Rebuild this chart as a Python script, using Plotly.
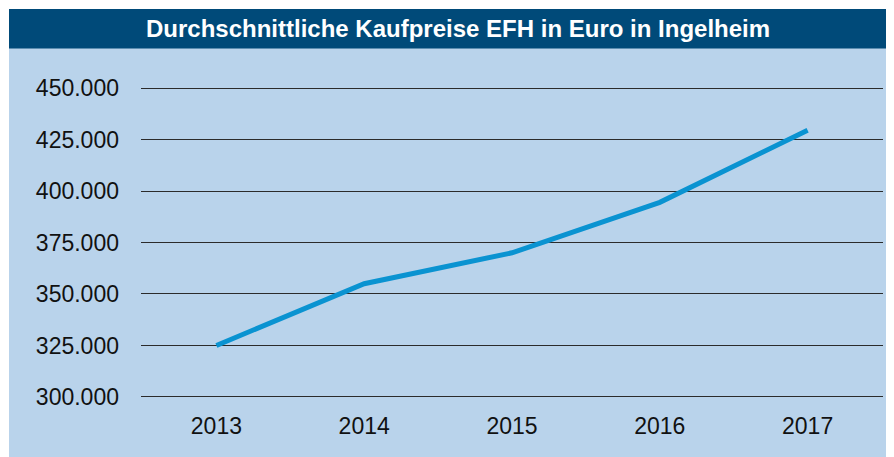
import plotly.graph_objects as go

years = ["2013", "2014", "2015", "2016", "2017"]
prices = [325000, 355000, 370000, 394500, 429500]
y_ticks = [300000, 325000, 350000, 375000, 400000, 425000, 450000]
y_tick_labels = ["300.000", "325.000", "350.000", "375.000", "400.000", "425.000", "450.000"]
title_text = "Durchschnittliche Kaufpreise EFH in Euro in Ingelheim"

# page has an 8px body margin, so the figure starts at (8, 8)
OFF = 8
W, H = 894 - OFF, 457 - OFF
L, R, T, B = 141 - OFF, 11, 86 - OFF, 58
pw, ph = W - L - R, H - T - B

def px(x):
    return (x - OFF - L) / pw

def py(y):
    return (H - B - (y - OFF)) / ph

fig = go.Figure()
fig.add_trace(go.Scatter(
    x=list(range(len(years))), y=prices, mode="lines",
    line=dict(color="#0a93d1", width=5),
    hoverinfo="skip", showlegend=False,
))

fig.add_shape(type="rect", xref="paper", yref="paper",
              x0=px(9), x1=px(894 + 5), y0=py(457 + 5), y1=py(48),
              fillcolor="#b9d3eb", line_width=0, layer="below")
fig.add_shape(type="rect", xref="paper", yref="paper",
              x0=px(9), x1=px(894 + 5), y0=py(48.5), y1=py(9),
              fillcolor="#004a79", line_width=0, layer="below")

fig.add_annotation(text="<b>" + title_text + "</b>", xref="paper", yref="paper",
                   x=px(458), y=py(29), showarrow=False,
                   font=dict(family="Liberation Sans, Arial, sans-serif", size=24, color="white"),
                   xanchor="center", yanchor="middle")

fig.update_layout(
    width=W, height=H,
    margin=dict(l=L, r=R, t=T, b=B, pad=0),
    paper_bgcolor="white", plot_bgcolor="rgba(0,0,0,0)",
    font=dict(family="Liberation Sans, Arial, sans-serif", size=23, color="#111111"),
    xaxis=dict(range=[-0.51, 4.51], tickvals=list(range(len(years))), ticktext=years,
               showgrid=False, zeroline=False, showline=False, ticks="",
               ticklabelstandoff=11, fixedrange=True),
    yaxis=dict(range=[299000, 451000], tickvals=y_ticks, ticktext=y_tick_labels,
               showgrid=True, gridcolor="#2b2b2b", gridwidth=1.3,
               zeroline=False, showline=False, ticks="", ticklabelstandoff=21,
               fixedrange=True),
)

fig.write_html("out.html")
